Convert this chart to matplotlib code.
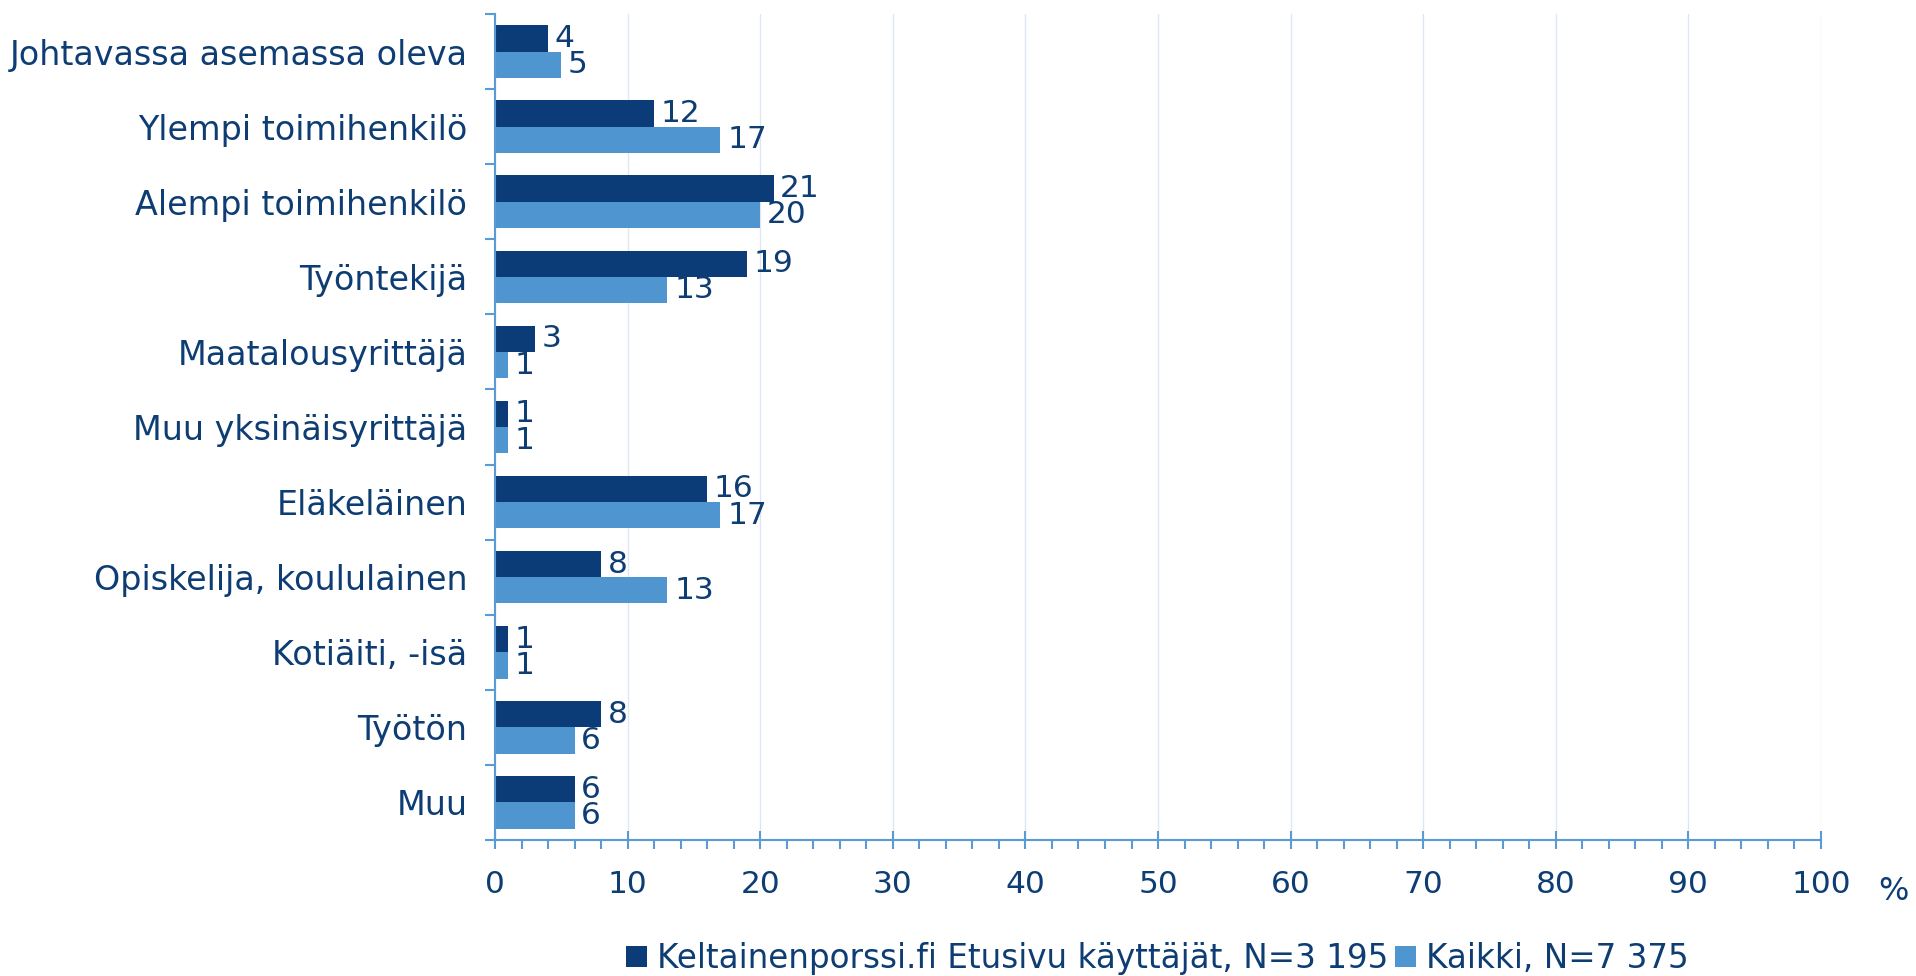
import matplotlib.pyplot as plt
import numpy as np
from matplotlib.ticker import MultipleLocator

categories = ['Johtavassa asemassa oleva', 'Ylempi toimihenkilö', 'Alempi toimihenkilö',
              'Työntekijä', 'Maatalousyrittäjä', 'Muu yksinäisyrittäjä', 'Eläkeläinen',
              'Opiskelija, koululainen', 'Kotiäiti, -isä', 'Työtön', 'Muu']
etusivu = [4, 12, 21, 19, 3, 1, 16, 8, 1, 8, 6]
kaikki = [5, 17, 20, 13, 1, 1, 17, 13, 1, 6, 6]
series_names = ['Keltainenporssi.fi Etusivu käyttäjät, N=3 195', 'Kaikki, N=7 375']

dark = '#0B3C78'
light = '#4F95CF'
txt = '#0E3D74'
axcol = '#5B9BD5'

plt.rcParams['font.family'] = 'DejaVu Sans'

fig = plt.figure(figsize=(19.16, 9.76), dpi=100)
ax = fig.add_axes([0.2584, 0.1393, 0.6920, 0.8464])

y = np.arange(len(categories))
h = 0.35
b1 = ax.barh(y - h / 2, etusivu, h, color=dark, label=series_names[0])
b2 = ax.barh(y + h / 2, kaikki, h, color=light, label=series_names[1])

for bars, vals in ((b1, etusivu), (b2, kaikki)):
    for bar, v in zip(bars, vals):
        ax.text(bar.get_width() + 0.5, bar.get_y() + bar.get_height() / 2, str(v),
                va='center', ha='left', fontsize=22.5, color=txt)

ax.set_xlim(0, 100)
ax.set_ylim(len(categories) - 0.5, -0.5)

ax.xaxis.set_major_locator(MultipleLocator(10))
ax.xaxis.set_minor_locator(MultipleLocator(2))
ax.tick_params(axis='x', which='major', direction='inout', length=13, width=1.5,
               color=axcol, labelsize=22.5, labelcolor=txt, pad=15)
ax.tick_params(axis='x', which='minor', direction='out', length=6.5, width=1.5, color=axcol)

ax.set_yticks(y)
ax.set_yticklabels(categories)
ax.set_yticks(np.arange(len(categories) + 1) - 0.5, minor=True)
ax.tick_params(axis='y', which='major', length=0, labelsize=24, labelcolor=txt, pad=20)
ax.tick_params(axis='y', which='minor', direction='out', length=7, width=1.5, color=axcol)

for s in ('top', 'right'):
    ax.spines[s].set_visible(False)
for s in ('left', 'bottom'):
    ax.spines[s].set_color(axcol)
    ax.spines[s].set_linewidth(1.5)

ax.grid(axis='x', which='major', color='#DCE7F3', linewidth=1)
ax.set_axisbelow(True)

fig.text(0.996, 0.087, '%', fontsize=23, color=txt, ha='right', va='center')

leg = fig.legend(handles=[b1, b2], loc='center', bbox_to_anchor=(0.604, 0.018),
                 ncol=2, frameon=False, fontsize=23.5, handlelength=0.65, handleheight=0.65,
                 handletextpad=0.3, columnspacing=0.2)
for t in leg.get_texts():
    t.set_color(txt)

fig.savefig('out.png', dpi=100)
